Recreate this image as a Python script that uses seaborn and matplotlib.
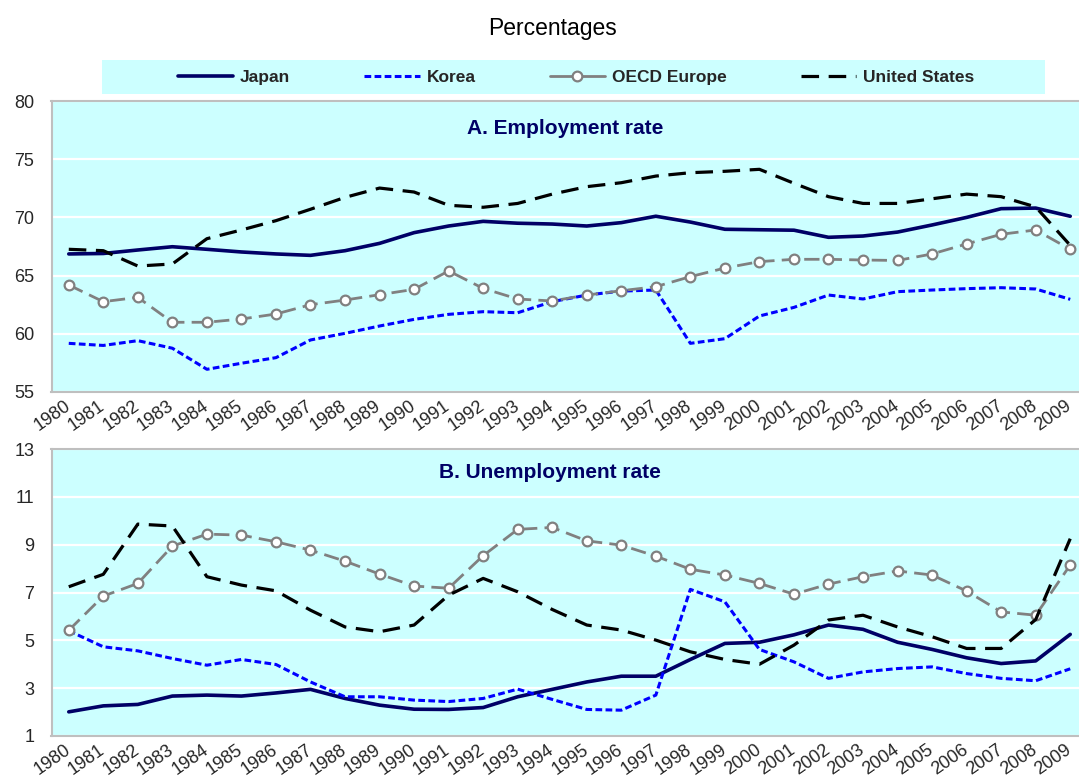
import numpy as np
import pandas as pd
import matplotlib
matplotlib.use("Agg")
import matplotlib.pyplot as plt
import matplotlib.transforms as mtransforms
from matplotlib.patches import Rectangle
import seaborn as sns

years = list(range(1980, 2010))

emp_japan = [66.86, 66.9, 67.2, 67.48, 67.26, 67.03, 66.86, 66.74, 67.14, 67.77, 68.69, 69.26, 69.66, 69.5,
             69.43, 69.26, 69.55, 70.1, 69.6, 68.98, 68.94, 68.9, 68.29, 68.4, 68.74, 69.35, 70.0, 70.75, 70.8, 70.1]
emp_korea = [59.18, 59.0, 59.41, 58.76, 56.95, 57.47, 57.95, 59.47, 60.04, 60.67, 61.24, 61.67, 61.9, 61.81,
             62.76, 63.33, 63.67, 63.76, 59.18, 59.58, 61.53, 62.27, 63.33, 62.99, 63.62, 63.76, 63.88, 63.96, 63.85, 62.96]
emp_europe = [64.19, 62.76, 63.13, 60.99, 60.99, 61.27, 61.7, 62.5, 62.9, 63.36, 63.82, 65.4, 63.9, 62.99,
              62.82, 63.33, 63.7, 64.05, 64.91, 65.65, 66.2, 66.4, 66.4, 66.34, 66.3, 66.86, 67.72, 68.55, 68.92, 67.26]
emp_us = [67.26, 67.14, 65.82, 66.0, 68.17, 68.92, 69.72, 70.7, 71.72, 72.52, 72.18, 71.04, 70.87, 71.2,
          72.0, 72.64, 72.98, 73.55, 73.84, 73.96, 74.13, 72.93, 71.78, 71.2, 71.2, 71.6, 72.0, 71.78, 70.9, 67.6]

unemp_japan = [2.01, 2.26, 2.32, 2.67, 2.71, 2.67, 2.80, 2.95, 2.57, 2.29, 2.12, 2.11, 2.19, 2.64,
               2.95, 3.26, 3.5, 3.5, 4.2, 4.87, 4.92, 5.23, 5.64, 5.46, 4.92, 4.62, 4.27, 4.03, 4.14, 5.25]
unemp_korea = [5.40, 4.73, 4.56, 4.24, 3.96, 4.2, 3.99, 3.26, 2.64, 2.64, 2.5, 2.44, 2.57, 2.96,
               2.53, 2.11, 2.08, 2.71, 7.13, 6.61, 4.62, 4.10, 3.41, 3.68, 3.82, 3.89, 3.61, 3.41, 3.31, 3.81]
unemp_europe = [5.42, 6.85, 7.38, 8.94, 9.44, 9.40, 9.12, 8.77, 8.31, 7.77, 7.27, 7.18, 8.54, 9.64,
                9.72, 9.16, 8.98, 8.52, 7.97, 7.73, 7.38, 6.93, 7.35, 7.66, 7.9, 7.73, 7.06, 6.19, 6.05, 8.15]
unemp_us = [7.24, 7.76, 9.86, 9.78, 7.66, 7.31, 7.07, 6.26, 5.56, 5.36, 5.64, 6.89, 7.59, 7.03,
            6.29, 5.64, 5.43, 5.01, 4.52, 4.2, 4.0, 4.8, 5.85, 6.05, 5.56, 5.15, 4.66, 4.66, 5.87, 9.25]

series_names = ["Japan", "Korea", "OECD Europe", "United States"]
panel_titles = ["A. Employment rate", "B. Unemployment rate"]
emp_ticks = [55, 60, 65, 70, 75, 80]
unemp_ticks = [1, 3, 5, 7, 9, 11, 13]

emp = {"Japan": emp_japan, "Korea": emp_korea, "OECD Europe": emp_europe, "United States": emp_us}
unemp = {"Japan": unemp_japan, "Korea": unemp_korea, "OECD Europe": unemp_europe, "United States": unemp_us}

styles = {
    "Japan": dict(color="#000066", lw=2.6, dashes=None, marker=None),
    "Korea": dict(color="#0000FF", lw=2.2, dashes=(2.2, 1.1), marker=None),
    "OECD Europe": dict(color="#808080", lw=2.0, dashes=(5.5, 2.6), marker="o"),
    "United States": dict(color="#000000", lw=2.3, dashes=(5.5, 3.0), marker=None),
}

BG = "#CCFFFF"
SPINE = "#BFBFBF"
W, H = 1079, 778

sns.set_theme(style="white")
plt.rcParams["font.family"] = ["Liberation Sans", "DejaVu Sans"]

fig = plt.figure(figsize=(W / 100, H / 100), dpi=100)

def fx(px):
    return px / W

def fy(py):
    return 1 - py / H

left, right = 51.5, 1087.5
ax1 = fig.add_axes([fx(left), fy(392), fx(right - left), (392 - 101) / H])
ax2 = fig.add_axes([fx(left), fy(736), fx(right - left), (736 - 449) / H])

def draw(ax, data, ticks, title, title_x, title_y):
    ax.set_facecolor(BG)
    for name in series_names:
        df = pd.DataFrame({"year": years, "value": data[name]})
        st = styles[name]
        kw = {}
        if st["marker"]:
            kw = dict(marker="o", markersize=7, markerfacecolor="white",
                      markeredgecolor=st["color"], markeredgewidth=1.6)
        sns.lineplot(data=df, x="year", y="value", ax=ax, color=st["color"],
                     lw=st["lw"], label=name, **kw)
        l = ax.get_lines()[-1]
        if st["dashes"] is not None:
            l.set_dashes(st["dashes"])
        l.set_dash_capstyle("butt")
    ax.set_xlim(1979.5, 2009.5)
    ax.set_ylim(ticks[0], ticks[-1])
    ax.set_yticks(ticks)
    ax.set_yticklabels([str(t) for t in ticks], fontsize=13)
    ax.grid(axis="y", color="white", lw=1.6)
    ax.grid(axis="x", visible=False)
    ax.set_axisbelow(True)
    ax.set_xlabel("")
    ax.set_ylabel("")
    ax.set_xticks(years)
    ax.set_xticklabels([str(y) for y in years], fontsize=13, rotation=35,
                       ha="right", va="top", rotation_mode="anchor")
    ax.set_xticks([y + 0.5 for y in years[:-1]], minor=True)
    ax.tick_params(axis="x", which="major", length=0, pad=4)
    ax.tick_params(axis="x", which="minor", length=5, direction="in", color=SPINE, width=1.2)
    ax.tick_params(axis="y", length=0, pad=12.5)
    offset = mtransforms.ScaledTranslation(-5 / 100, 0, fig.dpi_scale_trans)
    for lab in ax.get_xticklabels():
        lab.set_transform(lab.get_transform() + offset)
    for s in ax.spines.values():
        s.set_color(SPINE)
        s.set_linewidth(1.5)
    ax.spines["right"].set_visible(False)
    leg = ax.get_legend()
    if leg:
        leg.remove()
    fig.text(fx(title_x), fy(title_y), title, ha="center", va="center",
             fontsize=15, fontweight="bold", color="#000066")

draw(ax1, emp, emp_ticks, panel_titles[0], 565, 129)
draw(ax2, unemp, unemp_ticks, panel_titles[1], 550, 473)

# title
fig.text(fx(553), fy(29), "Percentages", ha="center", va="center", fontsize=16.5, color="black")

# legend box
fig.patches.append(Rectangle((fx(102), fy(94.3)), fx(1044.5 - 102), (94.3 - 60) / H,
                             transform=fig.transFigure, facecolor=BG, edgecolor="none", zorder=0))
handles, labels = ax1.get_legend_handles_labels()
leg = fig.legend(handles, labels, loc="center", bbox_to_anchor=(fx(576), fy(77)), ncol=4,
                 frameon=False, handlelength=3.2, handletextpad=0.4, columnspacing=4.25,
                 prop=dict(weight="bold", size=12.5))
leg.get_lines()[2].set_linestyle("-")

fig.savefig("out.png", dpi=100)
